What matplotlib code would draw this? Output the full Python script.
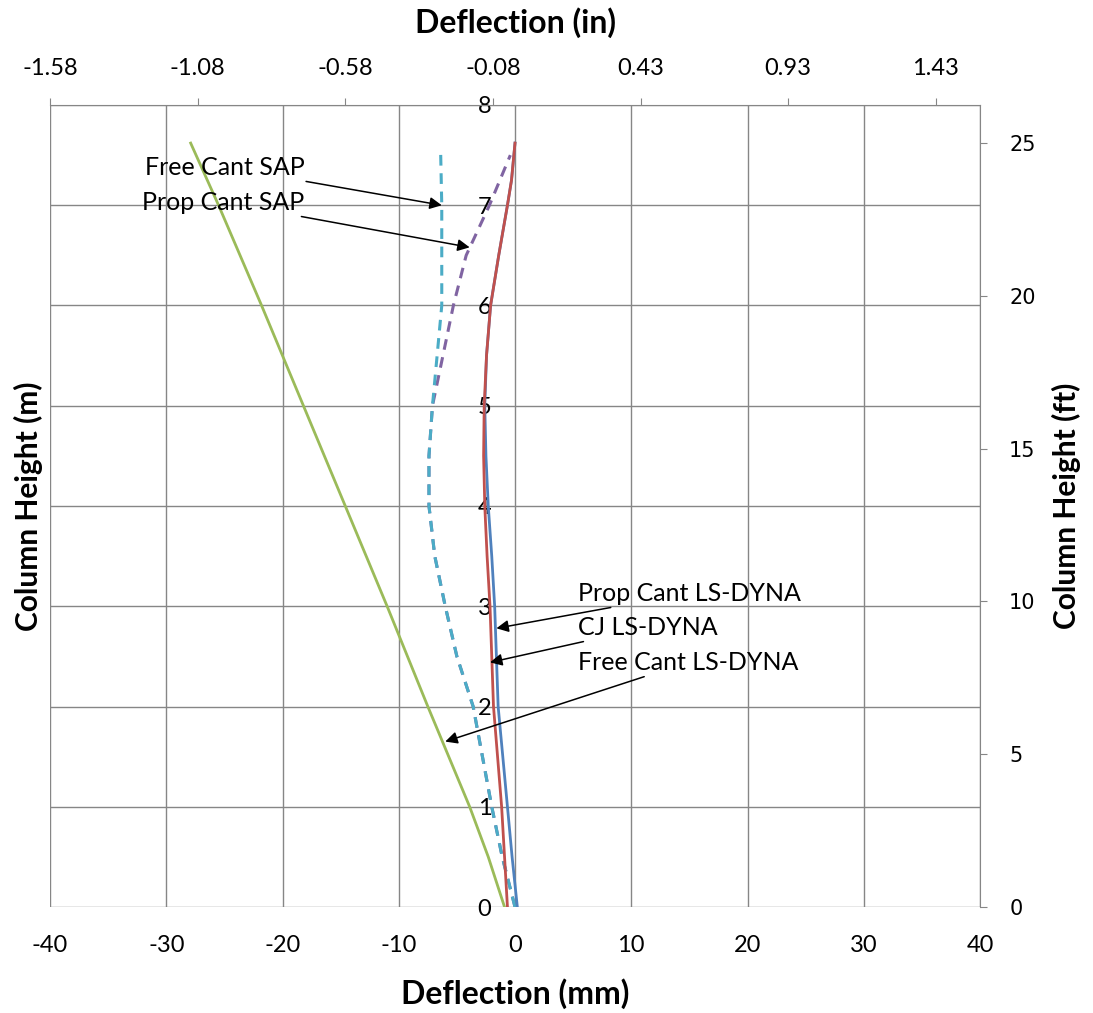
import numpy as np
import matplotlib
matplotlib.use("Agg")
import matplotlib.pyplot as plt

plt.rcParams['font.family'] = ['Lato', 'DejaVu Sans']
plt.rcParams['axes.unicode_minus'] = False

# column height (m) and deflection (mm)
h_green = [0, 0.5, 1, 2, 3, 4, 5, 6, 7, 7.62]
free_cant_dyna = [-0.9, -2.3, -3.9, -7.5, -11.0, -14.6, -18.2, -21.8, -25.5, -27.9]

h_cyan = [0, 0.5, 1, 1.5, 2, 2.5, 3, 3.5, 4, 4.5, 5, 5.5, 6, 6.5, 7, 7.55]
free_cant_sap = [0.0, -1.1, -2.0, -2.8, -3.6, -5.0, -6.0, -6.9, -7.4, -7.4, -7.1, -6.7, -6.3, -6.3, -6.3, -6.4]

h_purple = [0, 0.5, 1, 1.5, 2, 2.5, 3, 3.5, 4, 4.5, 5, 5.5, 6, 6.5, 7, 7.5]
prop_cant_sap = [0.0, -1.1, -2.0, -2.8, -3.6, -5.0, -6.0, -6.9, -7.4, -7.4, -7.1, -6.2, -5.3, -4.2, -2.2, -0.4]

h_dyna = [0, 0.5, 1, 1.5, 2, 2.5, 3, 3.5, 4, 4.5, 5, 5.5, 6, 6.5, 7, 7.25, 7.62]
cj_dyna = [-0.65, -0.9, -1.15, -1.5, -1.85, -2.0, -2.15, -2.4, -2.6, -2.7, -2.65, -2.45, -2.1, -1.4, -0.65, -0.3, 0.0]
prop_cant_dyna = [0.2, -0.25, -0.65, -1.05, -1.45, -1.6, -1.75, -2.0, -2.3, -2.5, -2.6, -2.45, -2.1, -1.4, -0.65, -0.3, 0.0]

mm_ticks = list(range(-40, 41, 10))
m_ticks = list(range(0, 9))
in_ticks = [-1.575, -1.075, -0.575, -0.075, 0.425, 0.925, 1.425]
in_labels = ['-1.58', '-1.08', '-0.58', '-0.08', '0.43', '0.93', '1.43']
ft_ticks = [0, 5, 10, 15, 20, 25]

grey = '#868686'

fig = plt.figure(figsize=(10.93, 10.13), dpi=100)
ax = fig.add_axes([50/1093, 106/1013, 930/1093, 802/1013])

ax.plot(prop_cant_sap, h_purple, color='#8064A2', lw=2.2, dashes=(3.5, 2.5))
ax.plot(free_cant_sap, h_cyan, color='#4BACC6', lw=2.2, dashes=(3.5, 2.5))
ax.plot(free_cant_dyna, h_green, color='#9BBB59', lw=2.0)
ax.plot(prop_cant_dyna, h_dyna, color='#4F81BD', lw=2.0)
ax.plot(cj_dyna, h_dyna, color='#C0504D', lw=2.0)

ax.set_xlim(-40, 40)
ax.set_ylim(0, 8)
ax.set_xticks(mm_ticks)
ax.set_yticks(m_ticks)
ax.grid(True, color=grey, lw=1.0)
for s in ['top', 'right', 'left', 'bottom']:
    ax.spines[s].set_visible(False)
ax.spines['left'].set_position(('data', 0))
ax.tick_params(axis='x', length=0, pad=20, labelsize=17)
ax.tick_params(axis='y', length=0, pad=17, labelsize=17)
ax.set_xlabel('Deflection (mm)', fontsize=23, fontweight='bold', labelpad=16)
ax.set_ylabel('Column Height (m)', fontsize=21.5, fontweight='bold')
ax.yaxis.set_label_coords(-0.008, 0.5)

# inch axis on top
axt = ax.twiny()
axt.set_xlim(-40/25.4, 40/25.4)
axt.set_xticks(in_ticks)
axt.set_xticklabels(in_labels)
axt.tick_params(axis='x', direction='out', length=5, color=grey, pad=14, labelsize=17)
axt.set_xlabel('Deflection (in)', fontsize=23, fontweight='bold', labelpad=18)
for s in ['left', 'right', 'bottom']:
    axt.spines[s].set_visible(False)
axt.spines['top'].set_color(grey)

# feet axis on right
axr = ax.twinx()
axr.set_ylim(0, 8/0.3048)
axr.tick_params(axis='y', direction='out', length=5, color=grey, pad=16, labelsize=15)
axr.set_yticks(ft_ticks)
axr.set_yticklabels([str(t) for t in ft_ticks], fontfamily='DejaVu Sans', fontsize=15)
axr.set_ylabel('Column Height (ft)', fontsize=21.5, fontweight='bold', labelpad=12)
for s in ['left', 'top', 'bottom']:
    axr.spines[s].set_visible(False)
axr.spines['right'].set_color(grey)

arrow = dict(arrowstyle='-|>', color='black', lw=1.1, mutation_scale=18, shrinkA=0, shrinkB=0)
ax.annotate('Free Cant SAP', xy=(-6.3, 7.0), xytext=(-18.1, 7.38), fontsize=18,
            ha='right', va='center', arrowprops=arrow)
ax.annotate('Prop Cant SAP', xy=(-3.9, 6.58), xytext=(-18.1, 7.03), fontsize=18,
            ha='right', va='center', arrowprops=arrow)
ax.annotate('Prop Cant LS-DYNA', xy=(-1.6, 2.78), xytext=(5.4, 3.13), fontsize=18,
            ha='left', va='center', arrowprops=arrow)
ax.annotate('CJ LS-DYNA', xy=(-2.15, 2.44), xytext=(5.4, 2.79), fontsize=18,
            ha='left', va='center', arrowprops=arrow)
ax.annotate('Free Cant LS-DYNA', xy=(-6.0, 1.65), xytext=(5.4, 2.44), fontsize=18,
            ha='left', va='center', arrowprops=arrow)

plt.savefig('out.png', dpi=100)
